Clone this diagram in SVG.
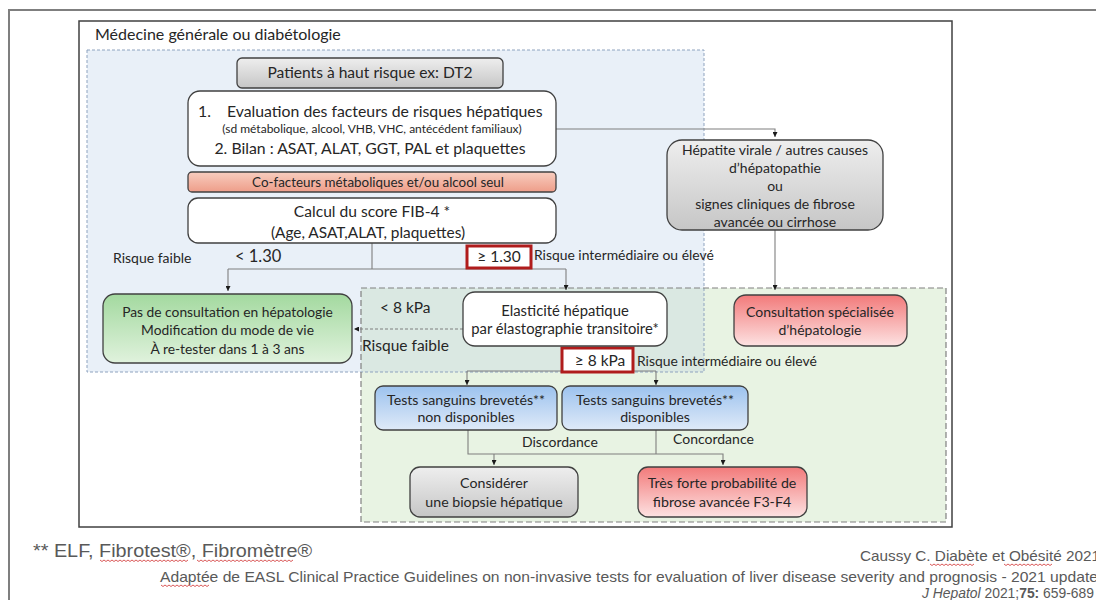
<svg xmlns="http://www.w3.org/2000/svg" width="1096" height="600" viewBox="0 0 1096 600">
<defs>
<style>
.t{font-family:Lato,"Liberation Sans",sans-serif;fill:#262626}
.m{text-anchor:middle}
.box{stroke:#404040;stroke-width:1.3}
.cn{fill:none;stroke:#7f7f7f;stroke-width:1.1}
.ft{font-family:"Liberation Sans Narrow","Liberation Sans",sans-serif;fill:#595959}
.sq{fill:none;stroke:#d03030;stroke-width:0.8}
</style>
<linearGradient id="gGray" x1="0" y1="0" x2="0" y2="1"><stop offset="0" stop-color="#eeeeee"/><stop offset="1" stop-color="#c6c6c6"/></linearGradient>
<linearGradient id="gSalmon" x1="0" y1="0" x2="0" y2="1"><stop offset="0" stop-color="#f8cdbf"/><stop offset="1" stop-color="#ee9d89"/></linearGradient>
<linearGradient id="gRed" x1="0" y1="0" x2="0" y2="1"><stop offset="0" stop-color="#f27a7a"/><stop offset="1" stop-color="#fde2e2"/></linearGradient>
<linearGradient id="gGreen" x1="0" y1="0" x2="0" y2="1"><stop offset="0" stop-color="#a3d99f"/><stop offset="1" stop-color="#e0f2dd"/></linearGradient>
<linearGradient id="gBlue" x1="0" y1="0" x2="0" y2="1"><stop offset="0" stop-color="#9cc2ee"/><stop offset="1" stop-color="#dfeaf8"/></linearGradient>
<marker id="ar" viewBox="0 0 10 10" refX="10" refY="5" markerWidth="5" markerHeight="5" orient="auto" markerUnits="userSpaceOnUse"><path d="M0,0 L10,5 L0,10 z" fill="#1a1a1a"/></marker>
</defs>

<rect width="1096" height="600" fill="#ffffff"/>
<path d="M9 600 V10 H1096" fill="none" stroke="#7f7f7f" stroke-width="2"/>
<rect x="79" y="21" width="873" height="506" fill="#ffffff" stroke="#404040" stroke-width="1.5"/>

<g id="regions">
<rect x="87" y="50" width="617" height="322" fill="#e9f0f8"/>
<rect x="361" y="288" width="585" height="234" fill="#e8f3e3"/>
<rect x="361" y="288" width="343" height="84" fill="#dae8e2"/>
<rect x="87" y="50" width="617" height="322" fill="none" stroke="#8ea3bf" stroke-width="1" stroke-dasharray="3 2"/>
<rect x="361" y="288" width="585" height="234" fill="none" stroke="#808080" stroke-width="1.2" stroke-dasharray="6 3"/>
</g>
<text class="t" x="95" y="40" font-size="16">Médecine générale ou diabétologie</text>

<g id="connectors">
<path class="cn" d="M372 243 V269 M228 269 H566"/>
<path class="cn" d="M228 269 V291" marker-end="url(#ar)"/>
<path class="cn" d="M566 269 V290" marker-end="url(#ar)"/>
<path class="cn" d="M556 129 H775 V137" marker-end="url(#ar)"/>
<path class="cn" d="M775 230 V290" marker-end="url(#ar)"/>
<path class="cn" d="M463 329 H354" stroke-dasharray="3 2" marker-end="url(#ar)"/>
<path class="cn" d="M467 371 H656"/>
<path class="cn" d="M467 371 V385" marker-end="url(#ar)"/>
<path class="cn" d="M656 371 V385" marker-end="url(#ar)"/>
<path class="cn" d="M468 430 V454 H723 V465" marker-end="url(#ar)"/>
<path class="cn" d="M656 430 V454"/>
<path class="cn" d="M494 454 V465" marker-end="url(#ar)"/>
</g>

<g id="patients">
<rect class="box" x="237" y="58" width="266" height="30" rx="5" fill="url(#gGray)"/>
<text class="t m" x="370" y="78" font-size="15.6">Patients à haut risque ex: DT2</text>
</g>

<g id="evaluation">
<rect class="box" x="188" y="91" width="368" height="75" rx="12" fill="#ffffff"/>
<text class="t" x="198" y="117" font-size="15.8">1.</text>
<text class="t" x="227" y="117" font-size="15.8">Evaluation des facteurs de risques hépatiques</text>
<text class="t m" x="372" y="133" font-size="12">(sd métabolique, alcool, VHB, VHC, antécédent familiaux)</text>
<text class="t m" x="370" y="154" font-size="15.8">2. Bilan : ASAT, ALAT, GGT, PAL et plaquettes</text>
</g>

<g id="cofacteurs">
<rect class="box" x="188" y="172" width="368" height="20" rx="4" fill="url(#gSalmon)"/>
<text class="t m" x="378" y="187" font-size="13.4">Co-facteurs métaboliques et/ou alcool seul</text>
</g>

<g id="fib4">
<rect class="box" x="188" y="198" width="368" height="45" rx="10" fill="#ffffff"/>
<text class="t m" x="372" y="217" font-size="15.6">Calcul du score FIB-4 *</text>
<text class="t m" x="368" y="238" font-size="15.4">(Age, ASAT,ALAT, plaquettes)</text>
</g>

<g id="labels-fib4">
<text class="t" x="113" y="263" font-size="14">Risque faible</text>
<text class="t" x="235" y="262" font-size="16.5">&lt; 1.30</text>
<rect x="467" y="246" width="64" height="22" fill="#ffffff" stroke="#b01c1c" stroke-width="3"/>
<text class="t m" x="499" y="262" font-size="15.5">≥ 1.30</text>
<text class="t" x="534" y="260" font-size="13.9">Risque intermédiaire ou élevé</text>
</g>

<g id="hepatite">
<rect class="box" x="667" y="140" width="216" height="90" rx="15" fill="url(#gGray)"/>
<text class="t m" x="775" y="155" font-size="14">Hépatite virale / autres causes</text>
<text class="t m" x="775" y="173" font-size="14">d’hépatopathie</text>
<text class="t m" x="775" y="191" font-size="14">ou</text>
<text class="t m" x="775" y="209" font-size="14">signes cliniques de fibrose</text>
<text class="t m" x="775" y="227" font-size="14">avancée ou cirrhose</text>
</g>

<g id="pas-consultation">
<rect class="box" x="103" y="294" width="249" height="69" rx="12" fill="url(#gGreen)"/>
<text class="t m" x="227.5" y="317" font-size="13.8">Pas de consultation en hépatologie</text>
<text class="t m" x="227.5" y="335" font-size="13.8">Modification du mode de vie</text>
<text class="t m" x="227.5" y="354" font-size="13.8">À re-tester dans 1 à 3 ans</text>
</g>

<g id="labels-kpa">
<text class="t" x="380" y="313" font-size="15.5">&lt; 8 kPa</text>
<text class="t" x="362" y="351" font-size="15.5">Risque faible</text>
<rect x="562" y="348" width="71" height="24" fill="#ffffff" stroke="#b01c1c" stroke-width="3"/>
<text class="t m" x="600" y="366" font-size="15.5">≥ 8 kPa</text>
<text class="t" x="637" y="366" font-size="13.9">Risque intermédiaire ou élevé</text>
</g>

<g id="elasticite">
<rect class="box" x="463" y="292" width="204" height="54" rx="12" fill="#ffffff"/>
<text class="t m" x="565" y="316" font-size="14.8">Elasticité hépatique</text>
<text class="t m" x="565" y="334" font-size="14.8">par élastographie transitoire*</text>
</g>

<g id="consultation">
<rect class="box" x="734" y="295" width="173" height="51" rx="12" fill="url(#gRed)"/>
<text class="t m" x="820" y="317" font-size="14">Consultation spécialisée</text>
<text class="t m" x="820" y="335" font-size="14">d’hépatologie</text>
</g>

<g id="tests-non">
<rect class="box" x="375" y="386" width="182" height="44" rx="8" fill="url(#gBlue)"/>
<text class="t m" x="466" y="405" font-size="14.2">Tests sanguins brevetés**</text>
<text class="t m" x="466" y="422" font-size="14.2">non disponibles</text>
</g>

<g id="tests-dispo">
<rect class="box" x="562" y="386" width="186" height="44" rx="8" fill="url(#gBlue)"/>
<text class="t m" x="655" y="405" font-size="14.2">Tests sanguins brevetés**</text>
<text class="t m" x="655" y="422" font-size="14.2">disponibles</text>
</g>

<text class="t" x="522" y="447" font-size="14">Discordance</text>
<text class="t" x="673" y="444" font-size="14">Concordance</text>

<g id="biopsie">
<rect class="box" x="410" y="467" width="168" height="50" rx="10" fill="url(#gGray)"/>
<text class="t m" x="494" y="488" font-size="14.2">Considérer</text>
<text class="t m" x="494" y="507" font-size="14.2">une biopsie hépatique</text>
</g>

<g id="fibrose">
<rect class="box" x="638" y="467" width="169" height="50" rx="10" fill="url(#gRed)"/>
<text class="t m" x="722" y="488" font-size="14.2">Très forte probabilité de</text>
<text class="t m" x="722" y="507" font-size="14.2">fibrose avancée F3-F4</text>
</g>

<g id="footer">
<text class="ft" x="33" y="557" font-size="18" textLength="279" lengthAdjust="spacingAndGlyphs">** ELF, Fibrotest®, Fibromètre®</text>
<text class="ft" x="860" y="561" font-size="14.5" textLength="240" lengthAdjust="spacingAndGlyphs">Caussy C. Diabète et Obésité 2021</text>
<text class="ft" x="160" y="582" font-size="14.5" textLength="938" lengthAdjust="spacingAndGlyphs">Adaptée de EASL Clinical Practice Guidelines on non-invasive tests for evaluation of liver disease severity and prognosis - 2021 update</text>
<text class="ft" x="922" y="598" font-size="14.5" textLength="172" lengthAdjust="spacingAndGlyphs"><tspan font-style="italic">J Hepatol</tspan> 2021;<tspan font-weight="bold">75:</tspan> 659-689</text>
<path class="sq" d="M100 560 l2 1.5 l2 -1.5 l2 1.5 l2 -1.5 l2 1.5 l2 -1.5 l2 1.5 l2 -1.5 l2 1.5 l2 -1.5 l2 1.5 l2 -1.5 l2 1.5 l2 -1.5 l2 1.5 l2 -1.5 l2 1.5 l2 -1.5 l2 1.5 l2 -1.5 l2 1.5 l2 -1.5 l2 1.5 l2 -1.5 l2 1.5 l2 -1.5 l2 1.5 l2 -1.5 l2 1.5 l2 -1.5 l2 1.5 l2 -1.5 l2 1.5 l2 -1.5 l2 1.5 l2 -1.5 l2 1.5 l2 -1.5 l2 1.5 l2 -1.5 l2 1.5 l2 -1.5 l2 1.5 l2 -1.5"/>
<path class="sq" d="M197 560 l2 1.5 l2 -1.5 l2 1.5 l2 -1.5 l2 1.5 l2 -1.5 l2 1.5 l2 -1.5 l2 1.5 l2 -1.5 l2 1.5 l2 -1.5 l2 1.5 l2 -1.5 l2 1.5 l2 -1.5 l2 1.5 l2 -1.5 l2 1.5 l2 -1.5 l2 1.5 l2 -1.5 l2 1.5 l2 -1.5 l2 1.5 l2 -1.5 l2 1.5 l2 -1.5 l2 1.5 l2 -1.5 l2 1.5 l2 -1.5 l2 1.5 l2 -1.5 l2 1.5 l2 -1.5 l2 1.5 l2 -1.5 l2 1.5 l2 -1.5 l2 1.5 l2 -1.5 l2 1.5 l2 -1.5 l2 1.5 l2 -1.5 l2 1.5 l2 -1.5"/>
<path class="sq" d="M161 585 l2 1.5 l2 -1.5 l2 1.5 l2 -1.5 l2 1.5 l2 -1.5 l2 1.5 l2 -1.5 l2 1.5 l2 -1.5 l2 1.5 l2 -1.5 l2 1.5 l2 -1.5 l2 1.5 l2 -1.5 l2 1.5 l2 -1.5 l2 1.5 l2 -1.5 l2 1.5 l2 -1.5 l2 1.5 l2 -1.5"/>
<path class="sq" d="M930 564 l2 1.5 l2 -1.5 l2 1.5 l2 -1.5 l2 1.5 l2 -1.5 l2 1.5 l2 -1.5 l2 1.5 l2 -1.5 l2 1.5 l2 -1.5 l2 1.5 l2 -1.5 l2 1.5 l2 -1.5 l2 1.5 l2 -1.5 l2 1.5 l2 -1.5 l2 1.5 l2 -1.5"/>
<path class="sq" d="M1004 564 l2 1.5 l2 -1.5 l2 1.5 l2 -1.5 l2 1.5 l2 -1.5 l2 1.5 l2 -1.5 l2 1.5 l2 -1.5 l2 1.5 l2 -1.5 l2 1.5 l2 -1.5 l2 1.5 l2 -1.5 l2 1.5 l2 -1.5 l2 1.5 l2 -1.5 l2 1.5 l2 -1.5 l2 1.5 l2 -1.5"/>
</g>
</svg>
